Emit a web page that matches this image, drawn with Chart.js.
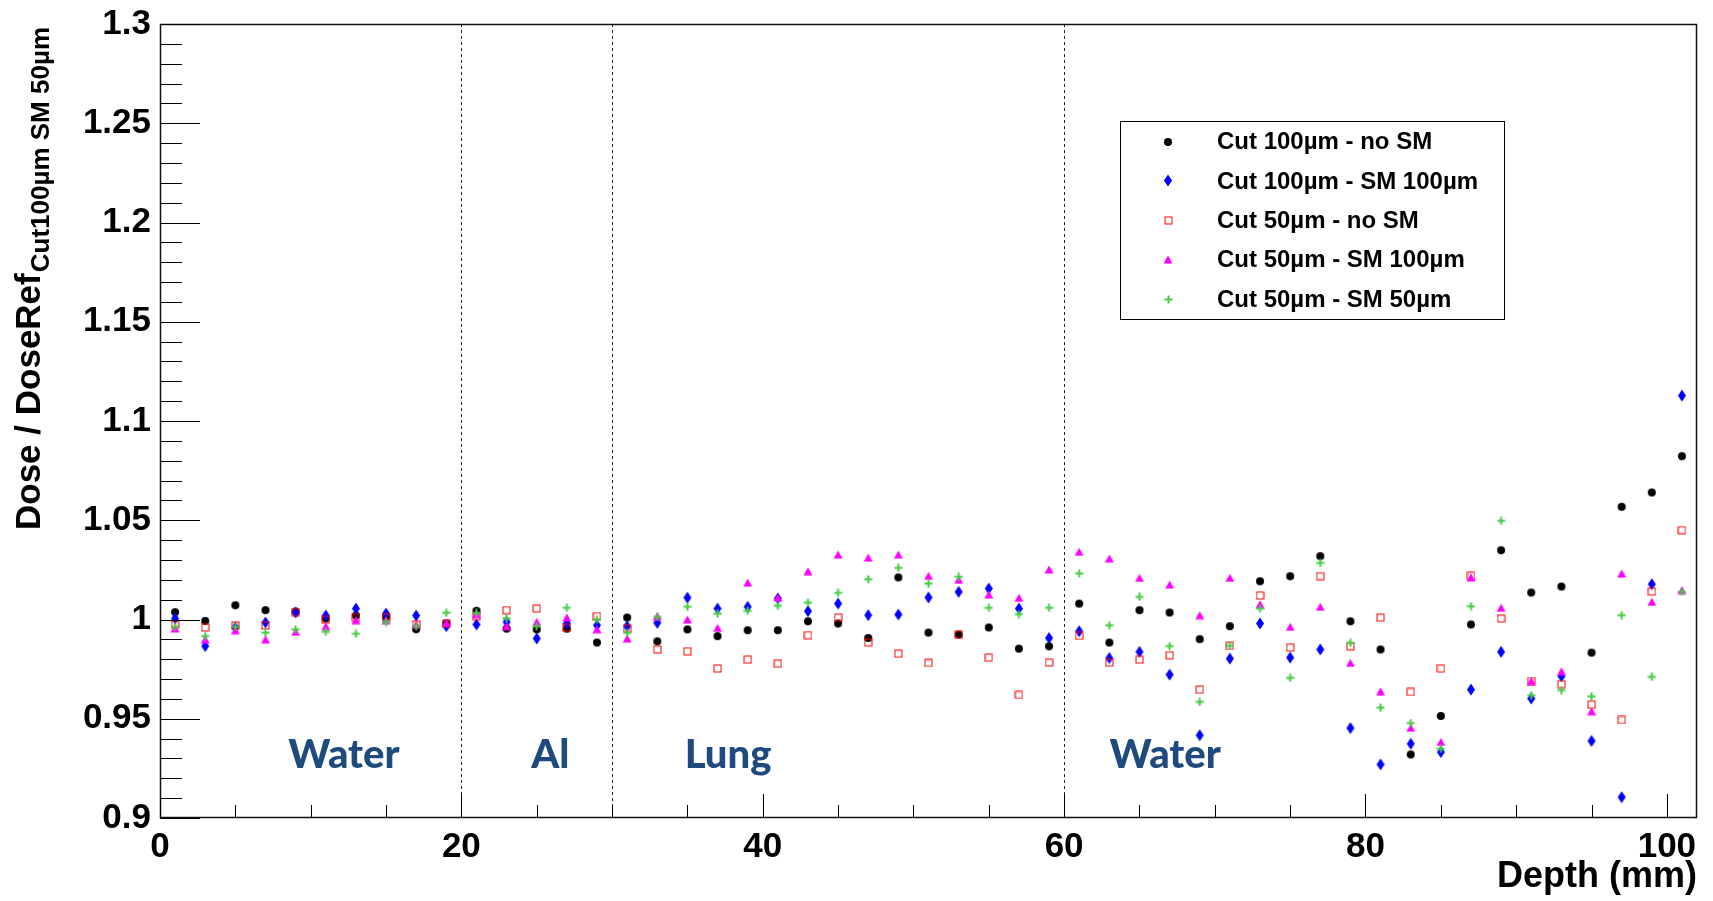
<!DOCTYPE html>
<html>
<head>
<meta charset="utf-8">
<script src="https://cdn.jsdelivr.net/npm/chart.js@4.4.0/dist/chart.umd.min.js"></script>
<style>
  html, body { margin: 0; padding: 0; background: #fff; }
  canvas { display: block; }
</style>
</head>
<body>
<canvas id="chart" width="1713" height="901"></canvas>
<script>
// depth of each bin centre (mm)
const depth = [1, 3, 5, 7, 9, 11, 13, 15, 17, 19, 21, 23, 25, 27, 29, 31, 33, 35, 37, 39,
  41, 43, 45, 47, 49, 51, 53, 55, 57, 59, 61, 63, 65, 67, 69, 71, 73, 75, 77, 79,
  81, 83, 85, 87, 89, 91, 93, 95, 97, 99, 101];

const cut100NoSM = [1.0037, 0.9993, 1.0072, 1.0047, 1.0040, 1.0005, 1.0020, 1.0013, 0.9951, 0.9980,
  1.0044, 0.9954, 0.9950, 0.9954, 0.9884, 1.0010, 0.9890, 0.9950, 0.9916, 0.9946,
  0.9946, 0.9991, 0.9980, 0.9907, 1.0212, 0.9934, 0.9924, 0.9960, 0.9853, 0.9865,
  1.0080, 0.9884, 1.0047, 1.0035, 0.9901, 0.9966, 1.0193, 1.0218, 1.0319, 0.9991,
  0.9849, 0.9320, 0.9514, 0.9975, 1.0349, 1.0136, 1.0166, 0.9833, 1.0568, 1.0640, 1.0823];

const cut100SM100 = [1.0005, 0.9866, 0.9960, 0.9985, 1.0035, 1.0020, 1.0055, 1.0030, 1.0020, 0.9966,
  0.9975, 0.9988, 0.9904, 0.9980, 0.9971, 0.9966, 0.9983, 1.0110, 1.0055, 1.0064,
  1.0106, 1.0042, 1.0080, 1.0022, 1.0025, 1.0111, 1.0139, 1.0156, 1.0055, 0.9907,
  0.9941, 0.9806, 0.9837, 0.9722, 0.9417, 0.9803, 0.9980, 0.9808, 0.9849, 0.9453,
  0.9270, 0.9374, 0.9332, 0.9647, 0.9837, 0.9602, 0.9714, 0.9388, 0.9105, 1.0178, 1.1128];

const cut50NoSM = [0.9975, 0.9960, 0.9970, 0.9970, 1.0035, 1.0000, 1.0010, 1.0010, 0.9975, 0.9980,
  1.0017, 1.0047, 1.0055, 0.9960, 1.0017, 0.9954, 0.9849, 0.9840, 0.9753, 0.9798,
  0.9778, 0.9921, 1.0010, 0.9884, 0.9828, 0.9781, 0.9924, 0.9808, 0.9620, 0.9783,
  0.9918, 0.9783, 0.9798, 0.9820, 0.9647, 0.9867, 1.0121, 0.9859, 1.0218, 0.9865,
  1.0010, 0.9635, 0.9753, 1.0220, 1.0005, 0.9690, 0.9674, 0.9571, 0.9494, 1.0141, 1.0450];

const cut50SM100 = [0.9955, 0.9900, 0.9946, 0.9900, 0.9938, 0.9966, 0.9997, 0.9997, 0.9976, 0.9983,
  1.0027, 0.9966, 0.9988, 1.0010, 0.9951, 0.9904, 1.0017, 1.0000, 0.9958, 1.0186,
  1.0110, 1.0243, 1.0327, 1.0312, 1.0327, 1.0220, 1.0201, 1.0126, 1.0109, 1.0252,
  1.0341, 1.0307, 1.0210, 1.0176, 1.0022, 1.0210, 1.0077, 0.9963, 1.0064, 0.9781,
  0.9638, 0.9455, 0.9383, 1.0212, 1.0059, 0.9690, 0.9739, 0.9538, 1.0232, 1.0089, 1.0148];

const cut50SM50 = [0.9963, 0.9916, 0.9963, 0.9934, 0.9950, 0.9938, 0.9928, 0.9987, 0.9966, 1.0034,
  1.0033, 1.0005, 0.9966, 1.0059, 1.0000, 0.9933, 1.0013, 1.0064, 1.0030, 1.0044,
  1.0069, 1.0085, 1.0134, 1.0203, 1.0260, 1.0181, 1.0215, 1.0059, 1.0027, 1.0059,
  1.0232, 0.9971, 1.0114, 0.9866, 0.9585, 0.9867, 1.0055, 0.9706, 1.0285, 0.9882,
  0.9556, 0.9478, 0.9349, 1.0067, 1.0497, 0.9618, 0.9644, 0.9613, 1.0022, 0.9711, 1.0139];

const seriesNames = ['Cut 100µm - no SM', 'Cut 100µm - SM 100µm', 'Cut 50µm - no SM',
  'Cut 50µm - SM 100µm', 'Cut 50µm - SM 50µm'];

const xTickValues = [0, 20, 40, 60, 80, 100];
const yTickValues = [0.9, 0.95, 1.0, 1.05, 1.1, 1.15, 1.2, 1.25, 1.3];
const yTickLabels = ['0.9', '0.95', '1', '1.05', '1.1', '1.15', '1.2', '1.25', '1.3'];

// material boundaries and region labels
const boundaries = [20, 30, 60];
const regionNames = ['Water', 'Al', 'Lung', 'Water'];
const regionCenters = [12.2, 25.9, 37.7, 66.7];

// ROOT-like markers as small canvases
function marker(kind, color) {
  const c = document.createElement('canvas');
  if (kind === 'circle') {
    c.width = 10; c.height = 10;
    const g = c.getContext('2d');
    g.fillStyle = color;
    g.beginPath(); g.arc(5, 5, 4, 0, Math.PI * 2); g.fill();
  } else if (kind === 'diamond') {
    c.width = 10; c.height = 13;
    const g = c.getContext('2d');
    g.fillStyle = color;
    g.beginPath(); g.moveTo(5, 0.5); g.lineTo(9, 6.5); g.lineTo(5, 12.5); g.lineTo(1, 6.5); g.closePath(); g.fill();
  } else if (kind === 'square') {
    c.width = 9; c.height = 9;
    const g = c.getContext('2d');
    g.strokeStyle = color; g.lineWidth = 1;
    g.strokeRect(1, 1, 7, 7);
  } else if (kind === 'triangle') {
    c.width = 10; c.height = 9;
    const g = c.getContext('2d');
    g.fillStyle = color;
    g.beginPath(); g.moveTo(5, 0.5); g.lineTo(9.5, 8.5); g.lineTo(0.5, 8.5); g.closePath(); g.fill();
  } else {
    c.width = 9; c.height = 9;
    const g = c.getContext('2d');
    g.fillStyle = color;
    g.fillRect(0.5, 3.5, 8, 2);
    g.fillRect(3.5, 0.5, 2, 8);
  }
  return c;
}

const markers = [
  marker('circle', '#000000'),
  marker('diamond', '#0000ff'),
  marker('square', '#ff0000'),
  marker('triangle', '#ff00ff'),
  marker('cross', '#44cc44')
];

function pts(values) {
  return depth.map((d, i) => ({ x: d, y: values[i] }));
}

const allSeries = [cut100NoSM, cut100SM100, cut50NoSM, cut50SM100, cut50SM50];

const datasets = allSeries.map((vals, i) => ({
  label: seriesNames[i],
  data: pts(vals),
  pointStyle: markers[i],
  pointRadius: 4,
  showLine: false,
  order: allSeries.length - i
}));

const rootFrame = {
  id: 'rootFrame',
  beforeDatasetsDraw(chart) {
    const ctx = chart.ctx;
    const a = chart.chartArea;
    const xs = chart.scales.x, ys = chart.scales.y;
    ctx.save();
    // dashed boundaries
    ctx.strokeStyle = '#222';
    ctx.lineWidth = 1;
    ctx.setLineDash([3, 3]);
    boundaries.forEach(b => {
      const px = Math.round(xs.getPixelForValue(b)) + 0.5;
      ctx.beginPath(); ctx.moveTo(px, a.top); ctx.lineTo(px, a.bottom); ctx.stroke();
    });
    ctx.setLineDash([]);
    // region labels
    ctx.fillStyle = '#1f4a7e';
    ctx.font = '900 40px Lato';
    ctx.textAlign = 'center';
    ctx.textBaseline = 'alphabetic';
    regionNames.forEach((n, i) => {
      ctx.fillText(n, xs.getPixelForValue(regionCenters[i]), ys.getPixelForValue(0.9253));
    });
    ctx.restore();
  },
  afterDraw(chart) {
    const ctx = chart.ctx;
    const a = chart.chartArea;
    const xs = chart.scales.x, ys = chart.scales.y;
    ctx.save();
    ctx.strokeStyle = '#111';
    ctx.lineWidth = 1.5;
    ctx.strokeRect(a.left + 0.5, a.top + 0.5, a.right - a.left - 1, a.bottom - a.top - 1);

    // y ticks: minor every 0.01, major every 0.05
    ctx.lineWidth = 1;
    ctx.strokeStyle = '#000';
    ctx.beginPath();
    for (let k = 0; k <= 40; k++) {
      const v = 0.9 + k * 0.01;
      const py = Math.round(ys.getPixelForValue(v)) + 0.5;
      const len = k % 5 === 0 ? 40 : 22;
      ctx.moveTo(a.left, py); ctx.lineTo(a.left + len, py);
    }
    // x ticks: minor every 5, major every 20
    for (let k = 0; k <= 20; k++) {
      const v = k * 5;
      const px = Math.round(xs.getPixelForValue(v)) + 0.5;
      const len = k % 4 === 0 ? 24 : 13;
      ctx.moveTo(px, a.bottom); ctx.lineTo(px, a.bottom - len);
    }
    ctx.stroke();

    // tick labels
    ctx.fillStyle = '#000';
    ctx.font = 'bold 35px "Liberation Sans", Arial, sans-serif';
    ctx.textAlign = 'right';
    ctx.textBaseline = 'middle';
    yTickValues.forEach((v, i) => {
      ctx.fillText(yTickLabels[i], 151, ys.getPixelForValue(v));
    });
    ctx.textAlign = 'center';
    ctx.textBaseline = 'alphabetic';
    xTickValues.forEach(v => {
      ctx.fillText(String(v), xs.getPixelForValue(v), 857);
    });

    // x title
    ctx.textAlign = 'right';
    ctx.font = 'bold 36px "Liberation Sans", Arial, sans-serif';
    ctx.fillText('Depth (mm)', a.right, 887);

    // y title with subscript
    ctx.save();
    ctx.translate(40, 530);
    ctx.rotate(-Math.PI / 2);
    ctx.textAlign = 'left';
    ctx.font = 'bold 35px "Liberation Sans", Arial, sans-serif';
    const main = 'Dose / DoseRef';
    ctx.fillText(main, 0, 0);
    const w = ctx.measureText(main).width;
    ctx.font = 'bold 26px "Liberation Sans", Arial, sans-serif';
    ctx.fillText('Cut100µm SM 50µm', w + 1, 9);
    ctx.restore();

    // legend
    ctx.fillStyle = '#fff';
    ctx.fillRect(1120.5, 121.5, 384, 198);
    ctx.strokeStyle = '#000';
    ctx.lineWidth = 1;
    ctx.strokeRect(1120.5, 121.5, 384, 198);
    ctx.fillStyle = '#000';
    ctx.font = 'bold 24px "Liberation Sans", Arial, sans-serif';
    ctx.textAlign = 'left';
    ctx.textBaseline = 'middle';
    seriesNames.forEach((n, i) => {
      const cy = 141.5 + i * 39.45;
      const m = markers[i];
      ctx.drawImage(m, Math.round(1168 - m.width / 2), Math.round(cy - m.height / 2));
      ctx.fillText(n, 1217, cy + 1);
    });
    ctx.restore();
  }
};

new Chart(document.getElementById('chart').getContext('2d'), {
  type: 'scatter',
  data: { datasets: datasets },
  options: {
    responsive: false,
    animation: false,
    devicePixelRatio: 1,
    layout: { padding: { left: 160, right: 16, top: 24, bottom: 83 } },
    plugins: { legend: { display: false }, tooltip: { enabled: false } },
    scales: {
      x: { type: 'linear', min: 0, max: 102, display: false },
      y: { type: 'linear', min: 0.9, max: 1.3, display: false }
    }
  },
  plugins: [rootFrame]
});
</script>
</body>
</html>
